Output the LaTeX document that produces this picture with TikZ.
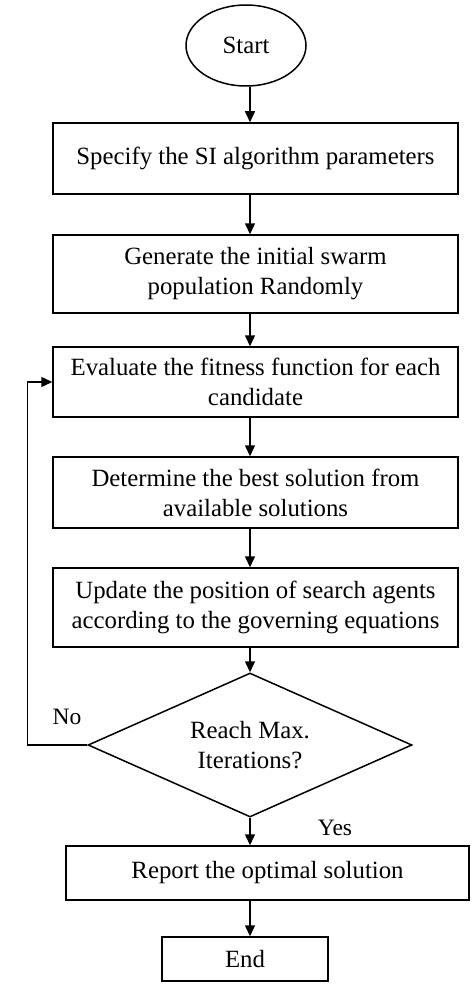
\documentclass[tikz,border=0pt]{standalone}
\usepackage{fontspec}
\setmainfont{Liberation Serif}
\usetikzlibrary{shapes.geometric,arrows.meta}
\begin{document}
\begin{tikzpicture}[x=1pt,y=-1pt,
  every node/.style={font=\fontsize{24.8}{30}\selectfont, align=center, inner sep=0pt},
  box/.style={draw, line width=1.5pt, rectangle},
  arr/.style={draw, line width=1.5pt, -{Triangle[length=11pt,width=10pt]}},
  lbl/.style={font=\fontsize{23.5}{28}\selectfont}]
\useasboundingbox (0,0) rectangle (474,987);
\node[draw, line width=1.5pt, ellipse, minimum width=120pt, minimum height=81pt] (start) at (246,45.5) {Start};
\node[box, minimum width=405pt, minimum height=71pt] (b1) at (255.5,158.5) {\raisebox{4pt}{Specify the SI algorithm parameters}};
\node[box, minimum width=405pt, minimum height=78pt] (b2) at (255.5,274) {Generate the initial swarm\\population Randomly};
\node[box, minimum width=405pt, minimum height=70pt] (b3) at (255.5,382) {Evaluate the fitness function for each\\candidate};
\node[box, minimum width=405pt, minimum height=71pt] (b4) at (255.5,492.5) {Determine the best solution from\\available solutions};
\node[box, minimum width=405pt, minimum height=79pt] (b5) at (255.5,607.5) {Update the position of search agents\\according to the governing equations};
\node[draw, line width=1.5pt, diamond, aspect=2.25, minimum width=324pt, minimum height=144pt] (d) at (250,745) {Reach Max.\\Iterations?};
\node[box, minimum width=403pt, minimum height=54pt] (b6) at (267.5,873) {Report the optimal solution};
\node[box, minimum width=166pt, minimum height=44pt] (end) at (245,959) {End};
\node[lbl] (no) at (67,717) {No};
\node[lbl] (yes) at (335,828) {Yes};
\coordinate (ax) at (250,0);
\draw[arr] (start.south -| ax) -- (b1.north -| ax);
\draw[arr] (b1.south -| ax) -- (b2.north -| ax);
\draw[arr] (b2.south -| ax) -- (b3.north -| ax);
\draw[arr] (b3.south -| ax) -- (b4.north -| ax);
\draw[arr] (b4.south -| ax) -- (b5.north -| ax);
\draw[arr] (b5.south -| ax) -- (d.north);
\draw[arr] (d.south) -- (b6.north -| ax);
\draw[arr] (b6.south -| ax) -- (end.north -| ax);
\draw[arr] (d.west) -- ++(-60,0) |- (b3.west);
\end{tikzpicture}
\end{document}
